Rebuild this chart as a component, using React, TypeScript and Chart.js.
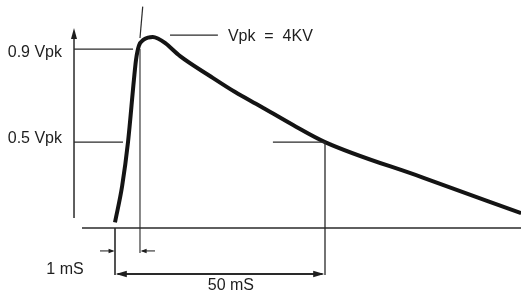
import React, { useEffect, useRef } from "react";
import { Chart, registerables } from "chart.js";
Chart.register(...registerables);

// Surge waveform (schematic, not to scale). x: time in drawn mS units, y: fraction of Vpk as drawn.
const waveTime = [0, 1.7, 3.1, 4.5, 5.0, 5.7, 6.7, 7.9, 9.0, 10.2, 11.9, 15.5, 22.6, 28.6, 34.5, 42.4, 50, 73.3, 96.7];
const waveVolt = [0.03, 0.22, 0.45, 0.775, 0.88, 0.955, 0.984, 0.997, 1.0, 0.992, 0.969, 0.9, 0.796, 0.712, 0.639, 0.539, 0.45, 0.264, 0.078];

const levelLabels = ["0.9 Vpk", "0.5 Vpk"];
const levelValues = [0.937, 0.45];
const levelLineEnds = [4.3, 1.9];

const timeLabels = ["1 mS", "50 mS"];
const timeMarks = [5.95, 50];

const peakLabel = "Vpk  =  4KV";
const peakValue = 1.01;

const axisTime = -9.76;
const axisTop = 1.047;
const axisBottom = 0.052;
const xMin = -27.381;
const xMax = 96.667;
const yMin = -0.3455;
const yMax = 1.1937;

const INK = "#1e1e1e";
const THIN = "#2a2a2a";

type Seg = { pts: [number, number][]; w: number; c?: string };

const segments: Seg[] = [
  // y axis
  { pts: [[axisTime, axisBottom], [axisTime, axisTop - 0.03]], w: 1.5 },
  // baseline
  { pts: [[-7.86, 0], [xMax, 0]], w: 1.6 },
  // level lines
  { pts: [[axisTime, levelValues[0]], [levelLineEnds[0], levelValues[0]]], w: 1.3 },
  { pts: [[axisTime, levelValues[1]], [levelLineEnds[1], levelValues[1]]], w: 1.3 },
  { pts: [[37.6, levelValues[1]], [timeMarks[1], levelValues[1]]], w: 1.3 },
  // tangent extension
  { pts: [[6.6, 1.159], [5.95, 0.995]], w: 1.2 },
  // vertical marks
  { pts: [[timeMarks[0], levelValues[0]], [timeMarks[0], -0.131]], w: 1.1 },
  { pts: [[0, 0], [0, -0.246]], w: 1.6 },
  { pts: [[timeMarks[1], levelValues[1]], [timeMarks[1], -0.246]], w: 1.3 },
  // peak leader
  { pts: [[13.1, peakValue], [24.5, peakValue]], w: 1.3 },
  // 1 mS small arrows
  { pts: [[-3.57, -0.12], [-0.6, -0.12]], w: 1.1 },
  { pts: [[9.52, -0.12], [6.5, -0.12]], w: 1.1 },
  // 50 mS dimension
  { pts: [[0.6, -0.241], [49.4, -0.241]], w: 2 },
];

type Arrow = { t: number; v: number; dir: "up" | "left" | "right"; len: number; half: number };
const arrows: Arrow[] = [
  { t: axisTime, v: axisTop, dir: "up", len: 11, half: 3 },
  { t: -0.1, v: -0.12, dir: "right", len: 6, half: 2.2 },
  { t: 6.1, v: -0.12, dir: "left", len: 6, half: 2.2 },
  { t: 0.2, v: -0.241, dir: "left", len: 11, half: 3.3 },
  { t: 49.8, v: -0.241, dir: "right", len: 11, half: 3.3 },
];

const FONT = "16px 'Liberation Sans', Arial, Helvetica, sans-serif";

const annotate = {
  id: "annotate",
  afterDatasetsDraw(chart: any) {
    const ctx = chart.ctx as CanvasRenderingContext2D;
    const xs = chart.scales.x;
    const ys = chart.scales.y;
    ctx.save();
    ctx.fillStyle = INK;
    for (const a of arrows) {
      const px = xs.getPixelForValue(a.t);
      const py = ys.getPixelForValue(a.v);
      ctx.beginPath();
      if (a.dir === "up") {
        ctx.moveTo(px, py);
        ctx.lineTo(px - a.half, py + a.len);
        ctx.lineTo(px + a.half, py + a.len);
      } else if (a.dir === "left") {
        ctx.moveTo(px, py);
        ctx.lineTo(px + a.len, py - a.half);
        ctx.lineTo(px + a.len, py + a.half);
      } else {
        ctx.moveTo(px, py);
        ctx.lineTo(px - a.len, py - a.half);
        ctx.lineTo(px - a.len, py + a.half);
      }
      ctx.closePath();
      ctx.fill();
    }
    ctx.font = FONT;
    ctx.fillStyle = INK;
    ctx.textBaseline = "middle";
    // level labels
    ctx.textAlign = "right";
    const axisPx = xs.getPixelForValue(axisTime);
    const offs = [4, -3];
    levelLabels.forEach((lab, i) => {
      ctx.fillText(lab, axisPx - 12, ys.getPixelForValue(levelValues[i]) + offs[i]);
    });
    // peak label
    ctx.textAlign = "left";
    ctx.fillText(peakLabel, xs.getPixelForValue(24.5) + 10, ys.getPixelForValue(peakValue) + 2);
    // time labels
    ctx.textAlign = "center";
    ctx.fillText(timeLabels[0], 65, ys.getPixelForValue(-0.22));
    ctx.fillText(timeLabels[1], xs.getPixelForValue(timeMarks[1] / 2 + 2.6), ys.getPixelForValue(-0.3));
    ctx.restore();
  },
};

export default function App() {
  const ref = useRef<HTMLCanvasElement | null>(null);
  useEffect(() => {
    document.body.style.margin = "0";
    const canvas = ref.current;
    if (!canvas) return;
    const datasets: any[] = segments.map((s) => ({
      data: s.pts.map(([x, y]) => ({ x, y })),
      showLine: true,
      borderColor: s.c || THIN,
      borderWidth: s.w,
      pointRadius: 0,
      borderCapStyle: "butt",
      tension: 0,
    }));
    datasets.push({
      data: waveTime.map((t, i) => ({ x: t, y: waveVolt[i] })),
      showLine: true,
      borderColor: "#141414",
      borderWidth: 4,
      pointRadius: 0,
      cubicInterpolationMode: "monotone",
      borderCapStyle: "butt",
      borderJoinStyle: "round",
    });
    const chart = new Chart(canvas, {
      type: "scatter",
      data: { datasets },
      options: {
        animation: false,
        responsive: false,
        devicePixelRatio: 1,
        layout: { padding: 0 },
        plugins: { legend: { display: false }, tooltip: { enabled: false }, title: { display: false } },
        scales: {
          x: { type: "linear", min: xMin, max: xMax, display: false },
          y: { type: "linear", min: yMin, max: yMax, display: false },
        },
      },
      plugins: [annotate],
    });
    return () => chart.destroy();
  }, []);
  return (
    <div style={{ width: 521, height: 294, background: "#fff" }}>
      <canvas ref={ref} width={521} height={294} style={{ display: "block" }} />
    </div>
  );
}
